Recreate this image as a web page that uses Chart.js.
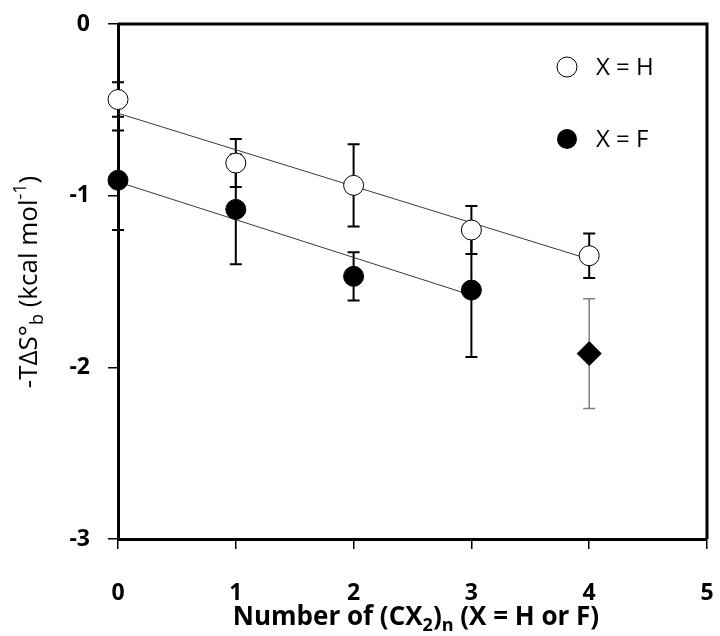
<!DOCTYPE html>
<html>
<head>
<meta charset="utf-8">
<script src="https://cdn.jsdelivr.net/npm/chart.js@4/dist/chart.umd.min.js"></script>
<style>
  body { margin: 0; background: #fff; }
  #wrap { width: 720px; height: 636px; }
</style>
</head>
<body>
<div id="wrap"><canvas id="chart" width="720" height="636"></canvas></div>
<script>
// values
const nValues = [0, 1, 2, 3, 4];
const hValues = [-0.44, -0.81, -0.94, -1.20, -1.35];
const hErrors = [0.10, 0.14, 0.24, 0.14, 0.13];

const fN = [0, 1, 2, 3];
const fValues = [-0.91, -1.08, -1.47, -1.55];
const fErrors = [0.29, 0.32, 0.14, 0.39];

const extraN = [4];
const extraValues = [-1.92];
const extraErrors = [0.32];

// linear fits
const hFitN = [0, 4];
const hFitValues = [-0.52, -1.37];
const fFitN = [0, 3];
const fFitValues = [-0.92, -1.58];

const xTicks = [0, 1, 2, 3, 4, 5];
const yTicks = [0, -1, -2, -3];

const FONT = "'Open Sans', 'Noto Sans', sans-serif";

function toPoints(xs, ys) {
  return xs.map((x, i) => ({ x: x, y: ys[i] }));
}

// draws text made of pieces, some of them sub/superscript
function drawRich(ctx, parts, cx, cy, size, weight) {
  const small = Math.round(size * 0.68);
  let total = 0;
  parts.forEach((p) => {
    ctx.font = weight + " " + (p.sub || p.sup ? small : size) + "px " + FONT;
    p.w = ctx.measureText(p.t).width;
    total += p.w;
  });
  let x = cx - total / 2;
  ctx.textBaseline = "middle";
  ctx.textAlign = "left";
  parts.forEach((p) => {
    ctx.font = weight + " " + (p.sub || p.sup ? small : size) + "px " + FONT;
    let dy = 0;
    if (p.sub) dy = size * 0.32;
    if (p.sup) dy = -size * 0.34;
    ctx.fillText(p.t, x, cy + dy);
    x += p.w;
  });
}

const errorBars = {
  id: "errorBars",
  beforeDatasetsDraw(chart) {
    const ctx = chart.ctx;
    const xs = chart.scales.x;
    const ys = chart.scales.y;
    ctx.save();
    // top and right sides of the frame
    ctx.strokeStyle = "#000";
    ctx.lineWidth = 3;
    const a = chart.chartArea;
    ctx.beginPath();
    ctx.moveTo(a.left, a.top);
    ctx.lineTo(a.right, a.top);
    ctx.lineTo(a.right, a.bottom);
    ctx.stroke();

    chart.data.datasets.forEach((ds) => {
      if (!ds.errors) return;
      ctx.strokeStyle = ds.errorColor;
      ctx.lineWidth = ds.errorWidth;
      ds.data.forEach((pt, i) => {
        const e = ds.errors[i];
        const px = xs.getPixelForValue(pt.x);
        const top = ys.getPixelForValue(pt.y + e);
        const bot = ys.getPixelForValue(pt.y - e);
        ctx.beginPath();
        ctx.moveTo(px, top);
        ctx.lineTo(px, bot);
        ctx.moveTo(px - 6, top);
        ctx.lineTo(px + 6, top);
        ctx.moveTo(px - 6, bot);
        ctx.lineTo(px + 6, bot);
        ctx.stroke();
      });
    });
    ctx.restore();
  },
  afterDraw(chart) {
    const ctx = chart.ctx;
    ctx.save();
    // legend
    const lx = 567;
    ctx.lineWidth = 1;
    ctx.strokeStyle = "#000";
    ctx.fillStyle = "#fff";
    ctx.beginPath();
    ctx.arc(lx, 67, 10, 0, Math.PI * 2);
    ctx.fill();
    ctx.stroke();
    ctx.fillStyle = "#000";
    ctx.beginPath();
    ctx.arc(lx, 139, 10, 0, Math.PI * 2);
    ctx.fill();
    ctx.font = "24px " + FONT;
    ctx.textAlign = "left";
    ctx.textBaseline = "middle";
    ctx.fillText("X = H", 596, 68);
    ctx.fillText("X = F", 596, 140);

    // x title
    drawRich(ctx, [
      { t: "Number of (CX" },
      { t: "2", sub: true },
      { t: ")" },
      { t: "n", sub: true },
      { t: " (X = H or F)" }
    ], 416, 618, 26, "bold");

    // y title
    ctx.translate(30, 282);
    ctx.rotate(-Math.PI / 2);
    drawRich(ctx, [
      { t: "-T\u0394S\u00b0" },
      { t: "b", sub: true },
      { t: " (kcal mol" },
      { t: "-1", sup: true },
      { t: ")" }
    ], 0, 0, 26, "normal");
    ctx.restore();
  }
};

new Chart(document.getElementById("chart"), {
  type: "scatter",
  data: {
    datasets: [
      {
        label: "X = H",
        data: toPoints(nValues, hValues),
        errors: hErrors,
        errorColor: "#000",
        errorWidth: 2,
        pointStyle: "circle",
        pointRadius: 10,
        pointBackgroundColor: "#fff",
        pointBorderColor: "#000",
        pointBorderWidth: 1,
        clip: false,
        order: 1
      },
      {
        label: "X = F",
        data: toPoints(fN, fValues),
        errors: fErrors,
        errorColor: "#000",
        errorWidth: 2,
        pointStyle: "circle",
        pointRadius: 10,
        pointBackgroundColor: "#000",
        pointBorderColor: "#000",
        pointBorderWidth: 1,
        clip: false,
        order: 1
      },
      {
        label: "extra",
        data: toPoints(extraN, extraValues),
        errors: extraErrors,
        errorColor: "#808080",
        errorWidth: 1.5,
        pointStyle: "rectRot",
        pointRadius: 12,
        pointBackgroundColor: "#000",
        pointBorderColor: "#000",
        pointBorderWidth: 1,
        clip: false,
        order: 1
      },
      {
        type: "line",
        label: "H fit",
        data: toPoints(hFitN, hFitValues),
        borderColor: "#3a3a3a",
        borderWidth: 1,
        pointRadius: 0,
        clip: false,
        order: 2
      },
      {
        type: "line",
        label: "F fit",
        data: toPoints(fFitN, fFitValues),
        borderColor: "#3a3a3a",
        borderWidth: 1,
        pointRadius: 0,
        clip: false,
        order: 2
      }
    ]
  },
  options: {
    responsive: false,
    animation: false,
    devicePixelRatio: 1,
    layout: { padding: { top: 24, right: 10, left: 0, bottom: 0 } },
    plugins: {
      legend: { display: false },
      tooltip: { enabled: false }
    },
    scales: {
      x: {
        type: "linear",
        min: 0,
        max: 5,
        afterBuildTicks: (scale) => { scale.ticks = xTicks.map((v) => ({ value: v })); },
        afterFit: (scale) => {
          scale.height = 97;
          scale.paddingLeft = 0;
          scale.paddingRight = 0;
        },
        border: { color: "#000", width: 3 },
        grid: { drawOnChartArea: false, color: "#000", tickLength: 10, lineWidth: 1.5 },
        ticks: {
          color: "#000",
          padding: 31,
          maxRotation: 0,
          font: { family: FONT, size: 23, weight: "bold" }
        }
      },
      y: {
        type: "linear",
        min: -3,
        max: 0,
        afterBuildTicks: (scale) => { scale.ticks = yTicks.map((v) => ({ value: v })); },
        afterFit: (scale) => {
          scale.width = 118;
          scale.paddingTop = 0;
          scale.paddingBottom = 0;
        },
        border: { color: "#000", width: 3 },
        grid: { drawOnChartArea: false, color: "#000", tickLength: 10, lineWidth: 1.5 },
        ticks: {
          color: "#000",
          padding: 18,
          font: { family: FONT, size: 23, weight: "bold" }
        }
      }
    }
  },
  plugins: [errorBars]
});
</script>
</body>
</html>
